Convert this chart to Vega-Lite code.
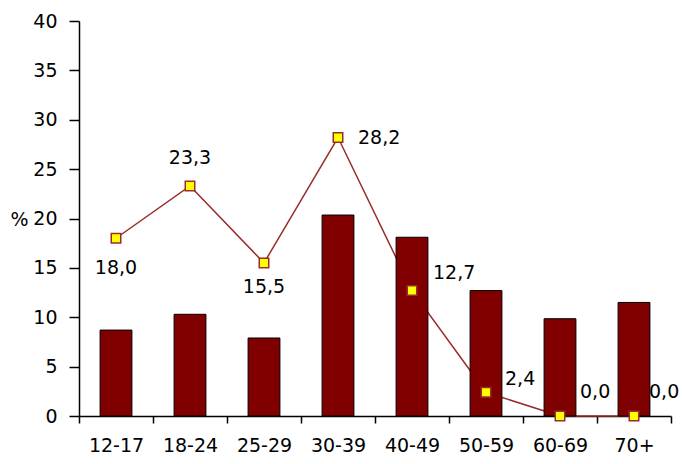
{
  "$schema": "https://vega.github.io/schema/vega-lite/v6.json",
  "autosize": "none",
  "width": 592,
  "height": 395,
  "padding": {"left": 79, "top": 21, "right": 11, "bottom": 48},
  "background": "white",
  "config": {
    "locale": {"number": {"decimal": ",", "thousands": ".", "grouping": [3], "currency": ["", " €"]}},
    "view": {"stroke": null},
    "font": "DejaVu Sans"
  },
  "data": {"values": [
    {"age": "12-17", "bar": 8.7, "line": 18.0},
    {"age": "18-24", "bar": 10.3, "line": 23.3},
    {"age": "25-29", "bar": 7.9, "line": 15.5},
    {"age": "30-39", "bar": 20.35, "line": 28.2},
    {"age": "40-49", "bar": 18.1, "line": 12.7},
    {"age": "50-59", "bar": 12.7, "line": 2.4},
    {"age": "60-69", "bar": 9.85, "line": 0.0},
    {"age": "70+", "bar": 11.5, "line": 0.0}
  ]},
  "encoding": {
    "x": {
      "field": "age", "type": "ordinal", "sort": null,
      "scale": {"type": "band", "paddingInner": 0, "paddingOuter": 0},
      "axis": {
        "title": null, "labelAngle": 0, "labelFontSize": 19, "labelColor": "#000",
        "labelPadding": 13, "tickBand": "extent", "tickSize": 7, "tickColor": "#000",
        "domainColor": "#000", "domainWidth": 1.5, "tickWidth": 1.5, "grid": false
      }
    }
  },
  "layer": [
    {
      "mark": {"type": "line", "color": "#9b2c2c", "strokeWidth": 1.5},
      "encoding": {
        "y": {
          "field": "line", "type": "quantitative",
          "scale": {"domain": [0, 40]},
          "axis": {
            "values": [0, 5, 10, 15, 20, 25, 30, 35, 40], "grid": false,
            "title": "%", "titleAngle": 0, "titleX": -60, "titleY": 198,
            "titleAlign": "center", "titleBaseline": "middle", "titleFontSize": 19,
            "titleFontWeight": "normal", "titleColor": "#000",
            "labelFontSize": 19, "labelColor": "#000", "labelPadding": 12,
            "tickSize": 10, "tickColor": "#000", "tickWidth": 1.5,
            "domainColor": "#000", "domainWidth": 1.5
          }
        }
      }
    },
    {
      "mark": {"type": "bar", "fill": "#800000", "stroke": "#000", "strokeWidth": 1, "width": {"band": 0.43}},
      "encoding": {"y": {"field": "bar", "type": "quantitative"}}
    },
    {
      "mark": {"type": "point", "shape": "square", "filled": true, "fill": "#ffff00", "stroke": "#9b2c2c", "strokeWidth": 1.5, "size": 90, "opacity": 1},
      "encoding": {"y": {"field": "line", "type": "quantitative"}}
    },
    {
      "transform": [{"filter": "datum.age == '12-17'"}],
      "mark": {"type": "text", "fontSize": 19, "color": "#000", "dy": 30, "baseline": "middle"},
      "encoding": {"y": {"field": "line", "type": "quantitative"}, "text": {"field": "line", "type": "quantitative", "format": ".1f"}}
    },
    {
      "transform": [{"filter": "datum.age == '25-29'"}],
      "mark": {"type": "text", "fontSize": 19, "color": "#000", "dy": 24, "baseline": "middle"},
      "encoding": {"y": {"field": "line", "type": "quantitative"}, "text": {"field": "line", "type": "quantitative", "format": ".1f"}}
    },
    {
      "transform": [{"filter": "datum.age == '18-24'"}],
      "mark": {"type": "text", "fontSize": 19, "color": "#000", "dy": -28, "baseline": "middle"},
      "encoding": {"y": {"field": "line", "type": "quantitative"}, "text": {"field": "line", "type": "quantitative", "format": ".1f"}}
    },
    {
      "transform": [{"filter": "datum.age == '30-39'"}],
      "mark": {"type": "text", "fontSize": 19, "color": "#000", "dx": 20, "align": "left", "baseline": "middle"},
      "encoding": {"y": {"field": "line", "type": "quantitative"}, "text": {"field": "line", "type": "quantitative", "format": ".1f"}}
    },
    {
      "transform": [{"filter": "datum.age == '40-49'"}],
      "mark": {"type": "text", "fontSize": 19, "color": "#000", "dx": 21, "dy": -18, "align": "left", "baseline": "middle"},
      "encoding": {"y": {"field": "line", "type": "quantitative"}, "text": {"field": "line", "type": "quantitative", "format": ".1f"}}
    },
    {
      "transform": [{"filter": "datum.age == '50-59'"}],
      "mark": {"type": "text", "fontSize": 19, "color": "#000", "dx": 19, "dy": -13, "align": "left", "baseline": "middle"},
      "encoding": {"y": {"field": "line", "type": "quantitative"}, "text": {"field": "line", "type": "quantitative", "format": ".1f"}}
    },
    {
      "transform": [{"filter": "datum.age == '60-69'"}],
      "mark": {"type": "text", "fontSize": 19, "color": "#000", "dx": 20, "dy": -24, "align": "left", "baseline": "middle"},
      "encoding": {"y": {"field": "line", "type": "quantitative"}, "text": {"field": "line", "type": "quantitative", "format": ".1f"}}
    },
    {
      "transform": [{"filter": "datum.age == '70+'"}],
      "mark": {"type": "text", "fontSize": 19, "color": "#000", "dx": 15, "dy": -24, "align": "left", "baseline": "middle"},
      "encoding": {"y": {"field": "line", "type": "quantitative"}, "text": {"field": "line", "type": "quantitative", "format": ".1f"}}
    }
  ]
}
